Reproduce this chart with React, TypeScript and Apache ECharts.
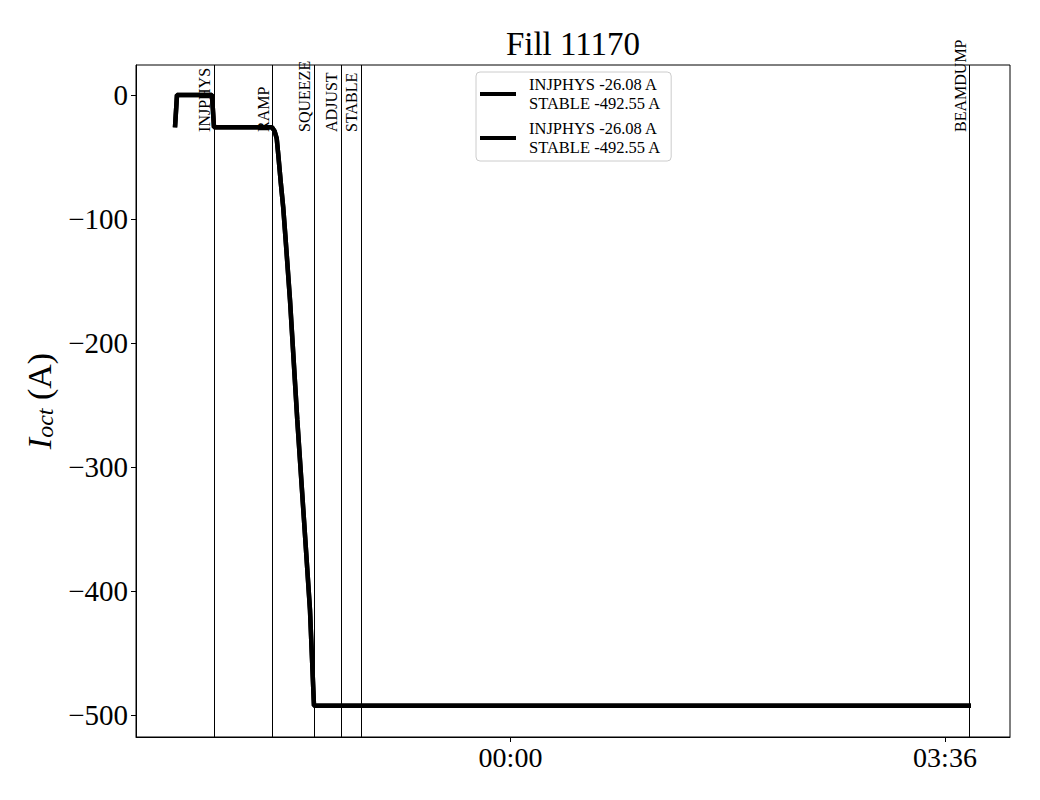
import React, { useEffect, useRef } from "react";
import * as echarts from "echarts";

// time in minutes relative to 00:00, current in A
const times = [-166.78, -165.79, -148.39, -147.39, -118.56, -117.32, -116.23, -115.43, -114.24, -112.95, -111.95, -109.62, -105.99, -102.66, -99.68, -97.69, 228.92];
const currents = [-26.08, 0, 0, -26.08, -26.08, -29, -34.9, -48.4, -69.9, -91.4, -112.9, -165.3, -262.1, -342.7, -415.3, -492.55, -492.55];

const eventNames = ["INJPHYS", "RAMP", "SQUEEZE", "ADJUST", "STABLE", "BEAMDUMP"];
const eventTimes = [-147.4, -118.56, -97.69, -84.27, -74.33, 228.2];

const yTicks = [-500, -400, -300, -200, -100, 0];
const xTicks = [0, 216];
const legendName1 = "INJPHYS -26.08 A\nSTABLE -492.55 A";
const legendName2 = "INJPHYS -26.08 A\nSTABLE -492.55 A ";
const titleText = "Fill 11170";

const X_MIN = -186.17;
const X_MAX = 248.31;
const Y_MIN = -517.74;
const Y_MAX = 24.19;
const LABEL_ANCHOR = -29.8;

const FONT = "'Liberation Serif', 'DejaVu Serif', serif";

function fmtTime(v: number) {
  const h = Math.floor(Math.abs(v) / 60);
  const m = Math.round(Math.abs(v) % 60);
  return (h < 10 ? "0" : "") + h + ":" + (m < 10 ? "0" : "") + m;
}

export default function App() {
  const ref = useRef<HTMLDivElement>(null);
  useEffect(() => {
    document.body.style.margin = "0";
    const chart = echarts.init(ref.current!, null, { renderer: "svg" });
    const data = times.map((t, i) => [t, currents[i]]);
    chart.setOption({
      animation: false,
      backgroundColor: "#fff",
      title: {
        text: titleText,
        left: 573,
        top: 27,
        textAlign: "center",
        padding: 0,
        textStyle: { fontFamily: FONT, fontSize: 33, fontWeight: "normal", color: "#000" },
      },
      grid: { left: 136, right: 30, top: 65, bottom: 63, show: true, borderColor: "#000", borderWidth: 1, backgroundColor: "transparent" },
      legend: {
        orient: "vertical",
        left: 476,
        top: 72,
        padding: [3, 6, 4, 4],
        itemGap: 6,
        itemWidth: 36,
        itemHeight: 4,
        icon: "rect",
        backgroundColor: "#fff",
        borderColor: "#ccc",
        borderWidth: 1,
        borderRadius: 4,
        data: [legendName1, legendName2],
        itemStyle: { color: "#000" },
        textStyle: { fontFamily: FONT, fontSize: 16.5, color: "#000", lineHeight: 19, padding: [0, 0, 0, 8] },
      },
      xAxis: {
        type: "value",
        min: X_MIN,
        max: X_MAX,
        splitLine: { show: false },
        axisLine: { show: true, onZero: false, lineStyle: { color: "#000", width: 1 } },
        axisTick: { show: true, inside: false, length: 5, customValues: xTicks, lineStyle: { color: "#000" } },
        axisLabel: {
          customValues: xTicks,
          formatter: (v: number) => fmtTime(v),
          fontFamily: FONT,
          fontSize: 28,
          color: "#000",
          margin: 6,
        },
      },
      yAxis: {
        type: "value",
        min: Y_MIN,
        max: Y_MAX,
        splitLine: { show: false },
        axisLine: { show: true, onZero: false, lineStyle: { color: "#000", width: 1 } },
        axisTick: { show: true, inside: false, length: 5, customValues: yTicks, lineStyle: { color: "#000" } },
        axisLabel: {
          customValues: yTicks,
          formatter: (v: number) => String(v).replace("-", "\u2212"),
          fontFamily: FONT,
          fontSize: 29,
          color: "#000",
          margin: 8,
        },
        name: "{i|I}{s|oct}{n| (A)}",
        nameLocation: "middle",
        nameRotate: 90,
        nameGap: 77,
        nameTextStyle: {
          rich: {
            i: { fontFamily: FONT, fontSize: 34, fontStyle: "italic", color: "#000" },
            s: { fontFamily: FONT, fontSize: 24, fontStyle: "italic", color: "#000", verticalAlign: "bottom", padding: [12, 0, 0, 0] },
            n: { fontFamily: FONT, fontSize: 34, color: "#000" },
          },
        },
      },
      series: [
        {
          name: legendName1,
          type: "line",
          data,
          showSymbol: false,
          symbol: "none",
          color: "#000",
          lineStyle: { color: "#000", width: 4.5 },
          z: 3,
          markLine: {
            silent: true,
            symbol: ["none", "none"],
            label: { show: false },
            lineStyle: { color: "#000", width: 1, type: "solid" },
            data: eventTimes.map((t) => ({ xAxis: t })),
          },
        },
        {
          name: legendName2,
          type: "line",
          data,
          showSymbol: false,
          symbol: "none",
          color: "#000",
          lineStyle: { color: "#000", width: 4.5 },
          z: 4,
        },
      ],
    });
    const graphics = eventNames.map((name, i) => {
      const p = chart.convertToPixel({ gridIndex: 0 }, [eventTimes[i], LABEL_ANCHOR]) as number[];
      return {
        type: "text",
        x: p[0] - 1,
        y: p[1],
        rotation: Math.PI / 2,
        z: 10,
        style: {
          text: name,
          fontFamily: FONT,
          fontSize: 16,
          fill: "#000",
          align: "left",
          verticalAlign: "bottom",
        },
      };
    });
    chart.setOption({ graphic: graphics });
    return () => chart.dispose();
  }, []);
  return <div ref={ref} style={{ width: 1040, height: 800 }} />;
}
